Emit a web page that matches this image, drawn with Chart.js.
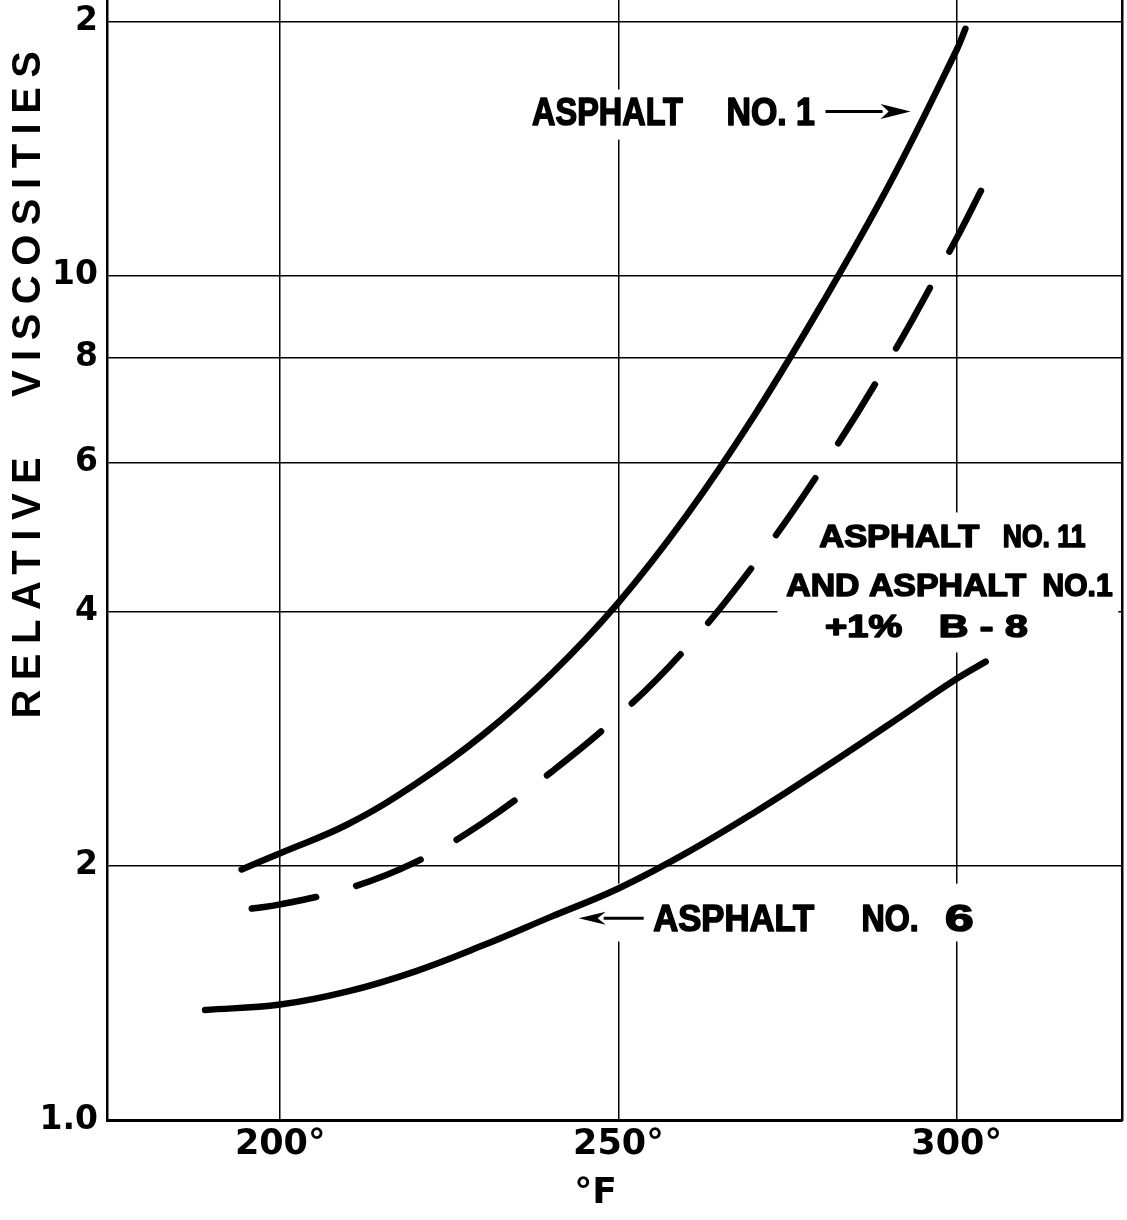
<!DOCTYPE html>
<html>
<head>
<meta charset="utf-8">
<script src="https://cdn.jsdelivr.net/npm/chart.js@4.4.1/dist/chart.umd.min.js"></script>
<style>
  html, body { margin: 0; padding: 0; background: #ffffff; }
  #wrap { width: 1127px; height: 1220px; position: relative; }
</style>
</head>
<body>
<div id="wrap"><canvas id="c"></canvas></div>
<script>
// ---- data ----
const seriesNames = ['ASPHALT NO. 1', 'ASPHALT NO. 11 AND ASPHALT NO. 1 + 1% B-8', 'ASPHALT NO. 6'];

const tempNo1 = [194.3, 200, 210, 220, 230, 240, 250, 260, 270, 280, 290, 300, 301.3];
const viscNo1 = [1.98, 2.07, 2.24, 2.50, 2.86, 3.37, 4.10, 5.19, 6.81, 9.23, 12.8, 18.5, 19.6];

const tempNo11 = [195.8, 200, 210, 220, 230, 240, 250, 260, 270, 280, 290, 300, 303.6];
const viscNo11 = [1.78, 1.80, 1.88, 2.02, 2.25, 2.58, 3.01, 3.62, 4.54, 5.90, 7.93, 11.07, 12.6];

const tempNo6 = [188.9, 200, 210, 220, 230, 240, 250, 260, 270, 280, 290, 300, 304.3];
const viscNo6 = [1.35, 1.37, 1.42, 1.50, 1.61, 1.74, 1.88, 2.07, 2.31, 2.60, 2.94, 3.33, 3.49];

const xTickValues = [200, 250, 300];
const xTickLabels = ['200°', '250°', '300°'];
const yTickValues = [1, 2, 4, 6, 8, 10, 20];
const yTickLabels = ['1.0', '2', '4', '6', '8', '10', '2'];
const xTitle = '°F';
const yTitle = 'RELATIVE VISCOSITIES';

// annotation texts (anchored in data units: left edge °F, baseline viscosity)
const noteTexts   = ['ASPHALT', 'NO. 1', 'ASPHALT', 'NO. 11', 'AND ASPHALT', 'NO.1', '+1%', 'B - 8', 'ASPHALT', 'NO.', '6'];
const noteX       = [237.13, 266.12, 279.59, 306.95, 274.70, 312.87, 280.62, 297.63, 255.03, 286.09, 298.37];
const noteY       = [15.05, 15.05, 4.764, 4.764, 4.169, 4.169, 3.727, 3.727, 1.672, 1.672, 1.672];

// ---- styling / layout (not data) ----
const noteCap   = [28, 28, 23.5, 23.5, 23.5, 23.5, 23.5, 23.5, 27, 27, 27];
const noteWidth = [152, 88, 162, 82, 242, 69, 77, 87, 163, 55, 28];
const maskBoxes = [
  {x0: 235.8, x1: 294.4, y0: 14.49, y1: 16.61},
  {x0: 273.52, x1: 323.9, y0: 3.578, y1: 5.242},
  {x0: 243.2, x1: 304.29, y0: 1.627, y1: 1.905}
];
const arrows = [
  {from: 280.62, to: 293.20, at: 15.64, head: 30, half: 7.5},
  {from: 253.74, to: 244.13, at: 1.733, head: 27, half: 6.5}
];

function pts(t, v) { return t.map((x, i) => ({x: x, y: v[i]})); }

const notesPlugin = {
  id: 'notes',
  beforeDatasetsDraw(chart) {
    const {ctx, scales: {x, y}} = chart;
    ctx.save();
    ctx.fillStyle = '#ffffff';
    maskBoxes.forEach(m => {
      const X0 = x.getPixelForValue(m.x0), X1 = x.getPixelForValue(m.x1);
      const Y0 = y.getPixelForValue(m.y1), Y1 = y.getPixelForValue(m.y0);
      ctx.fillRect(X0, Y0, X1 - X0, Y1 - Y0);
    });
    ctx.restore();
  },
  afterDatasetsDraw(chart) {
    const {ctx, scales: {x, y}} = chart;
    ctx.save();
    ctx.fillStyle = '#000';
    ctx.strokeStyle = '#000';
    ctx.lineJoin = 'round';
    ctx.textAlign = 'left';
    ctx.textBaseline = 'alphabetic';
    ctx.font = 'bold 100px "Liberation Sans", Arial, sans-serif';
    const capRef = ctx.measureText('H').actualBoundingBoxAscent;
    noteTexts.forEach((t, i) => {
      const fs = (noteCap[i] - 1.2) * 100 / capRef;
      ctx.font = 'bold ' + fs.toFixed(2) + 'px "Liberation Sans", Arial, sans-serif';
      const m = ctx.measureText(t);
      const inkW = m.actualBoundingBoxRight + m.actualBoundingBoxLeft;
      const sx = (noteWidth[i] - 1.5) / inkW;
      ctx.save();
      ctx.translate(x.getPixelForValue(noteX[i]) + 0.75, y.getPixelForValue(noteY[i]) - 0.6);
      ctx.scale(sx, 1);
      ctx.lineWidth = 1.6;
      ctx.fillText(t, m.actualBoundingBoxLeft, 0);
      ctx.strokeText(t, m.actualBoundingBoxLeft, 0);
      ctx.restore();
    });
    ctx.lineWidth = 3;
    arrows.forEach(a => {
      const X0 = x.getPixelForValue(a.from), X1 = x.getPixelForValue(a.to), Y = y.getPixelForValue(a.at);
      const dir = X1 > X0 ? 1 : -1;
      const base = X1 - dir * a.head;
      ctx.beginPath();
      ctx.moveTo(X0, Y); ctx.lineTo(base + dir * 2, Y);
      ctx.stroke();
      ctx.beginPath();
      ctx.moveTo(X1, Y); ctx.lineTo(base, Y - a.half); ctx.lineTo(base + dir * 8, Y); ctx.lineTo(base, Y + a.half);
      ctx.closePath();
      ctx.fill();
    });
    ctx.restore();
  }
};

const titlePatch = {
  id: 'titlePatch',
  beforeDraw(chart) {
    const ys = chart.scales.y, xs = chart.scales.x;
    if (ys && !ys.$patched) {
      const o = ys.drawTitle;
      ys.drawTitle = function () {
        const c = this.ctx; c.save();
        c.letterSpacing = '9.5px'; c.wordSpacing = '30px';
        c.translate(0, -180);
        o.call(this); c.restore();
      };
      ys.$patched = true;
    }
    if (xs && !xs.$patched) {
      const o = xs.drawTitle;
      xs.drawTitle = function () {
        const c = this.ctx; c.save();
        c.translate(-19, 0);
        o.call(this); c.restore();
      };
      xs.$patched = true;
    }
  }
};

const lineStyle = {
  borderColor: '#000', backgroundColor: '#000', borderWidth: 6.5, pointRadius: 0,
  tension: 0.4, borderCapStyle: 'round', borderJoinStyle: 'round', fill: false
};

new Chart(document.getElementById('c'), {
  type: 'line',
  data: {
    datasets: [
      Object.assign({label: seriesNames[0], data: pts(tempNo1, viscNo1)}, lineStyle),
      Object.assign({label: seriesNames[1], data: pts(tempNo11, viscNo11), borderDash: [69.5, 41.5], borderDashOffset: 4}, lineStyle),
      Object.assign({label: seriesNames[2], data: pts(tempNo6, viscNo6)}, lineStyle)
    ]
  },
  plugins: [titlePatch, notesPlugin],
  options: {
    responsive: true, maintainAspectRatio: false, animation: false,
    layout: {padding: 0},
    plugins: {legend: {display: false}, tooltip: {enabled: false}},
    scales: {
      x: {
        type: 'linear', min: 174.4, max: 324.45,
        afterBuildTicks: s => { s.ticks = xTickValues.map(v => ({value: v})); },
        afterFit: s => { s.height = 100; s.paddingLeft = 0; s.paddingRight = 0; },
        ticks: {
          callback: (v, i) => xTickLabels[i], color: '#000', padding: 4, maxRotation: 0, autoSkip: false,
          font: {family: '"DejaVu Sans"', weight: 'bold', size: 35}
        },
        grid: {color: '#000', lineWidth: 1.5, drawTicks: false},
        border: {color: '#000', width: 3},
        title: {display: true, text: xTitle, color: '#000', padding: {top: 0, bottom: 5},
          font: {family: '"DejaVu Sans"', weight: 'bold', size: 36}}
      },
      y: {
        type: 'logarithmic', min: 1, max: 21.2,
        afterBuildTicks: s => { s.ticks = yTickValues.map(v => ({value: v})); },
        afterFit: s => { s.width = 107; s.paddingTop = 0; s.paddingBottom = 0; },
        ticks: {
          callback: (v, i) => yTickLabels[i], color: '#000', padding: 9, autoSkip: false,
          font: {family: '"DejaVu Sans"', weight: 'bold', size: 33}
        },
        grid: {color: '#000', lineWidth: 1.5, drawTicks: false},
        border: {color: '#000', width: 2.5},
        title: {display: true, text: yTitle, color: '#000', padding: {top: 5, bottom: 0},
          font: {family: '"Liberation Sans"', weight: 'bold', size: 40}}
      },
      y2: {
        type: 'linear', position: 'right', display: true, min: 0, max: 1,
        afterFit: s => { s.width = 5; s.paddingTop = 0; s.paddingBottom = 0; },
        ticks: {display: false},
        grid: {display: false, drawTicks: false},
        border: {color: '#000', width: 2.5}
      }
    }
  }
});
</script>
</body>
</html>
